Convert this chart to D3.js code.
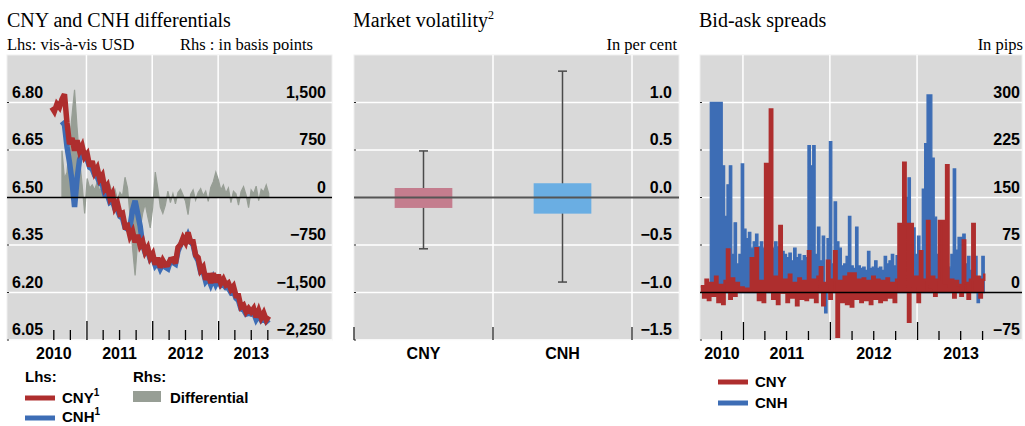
<!DOCTYPE html>
<html><head><meta charset="utf-8">
<script src="https://cdn.jsdelivr.net/npm/d3@7"></script>
<style>
body{margin:0;background:#fff;}
svg{display:block;}
</style></head><body>
<svg id="chart" width="1025" height="426"></svg>
<script>
// ---------------- DATA ----------------
// Left panel: fortnightly observations
const rateStart = "2010-06-23";
const rateStepDays = 14;
const cnyRate = [
 6.785, 6.772, 6.795, 6.785, 6.810, 6.826, 6.735, 6.668, 6.688, 6.648,
 6.680, 6.647, 6.663, 6.628, 6.638, 6.598, 6.615, 6.579, 6.593, 6.558,
 6.570, 6.527, 6.538, 6.499, 6.513, 6.468, 6.482, 6.448, 6.451, 6.409,
 6.412, 6.378, 6.393, 6.358, 6.382, 6.348, 6.361, 6.328, 6.342, 6.309,
 6.322, 6.288, 6.310, 6.279, 6.301, 6.287, 6.288, 6.304, 6.306, 6.292,
 6.342, 6.351, 6.372, 6.358, 6.390, 6.360, 6.360, 6.318, 6.310, 6.270,
 6.280, 6.240, 6.260, 6.230, 6.261, 6.232, 6.256, 6.229, 6.242, 6.224,
 6.230, 6.210, 6.220, 6.190, 6.190, 6.154, 6.160, 6.139, 6.150, 6.139,
 6.150, 6.122, 6.143, 6.120, 6.135, 6.113, 6.125
];
const cnhRate = [
 null, null, null, null, 6.74, 6.73, 6.66, 6.61, 6.55, 6.47,
 6.56, 6.62, 6.64, 6.625, 6.62, 6.595, 6.59, 6.57, 6.565, 6.545,
 6.54, 6.51, 6.51, 6.485, 6.49, 6.465, 6.46, 6.44, 6.435, 6.405,
 6.40, 6.41, 6.46, 6.49, 6.45, 6.41, 6.35, 6.325, 6.33, 6.305,
 6.31, 6.285, 6.295, 6.275, 6.29, 6.28, 6.275, 6.30, 6.295, 6.29,
 6.33, 6.35, 6.365, 6.36, 6.38, 6.36, 6.35, 6.315, 6.30, 6.265,
 6.265, 6.235, 6.245, 6.225, 6.245, 6.225, 6.24, 6.222, 6.226, 6.215,
 6.214, 6.20, 6.205, 6.182, 6.175, 6.148, 6.145, 6.132, 6.135, 6.132,
 6.136, 6.115, 6.128, 6.113, 6.12, 6.108, 6.115
];
const differentialBp = [
 null, null, null, null, 740, 300, 400, 900, 1300, 1700,
 1100, 600, 200, -250, 300, 150, 200, 120, 250, 100,
 180, 230, 90, 200, 60, 130, -30, 80, 20, 320,
 150, -300, -800, -1230, -700, -500, -250, -100, -300, -480,
 -150, 400, 150, -150, -250, -120, 100, -80, 60, -100,
 80, 130, 40, -60, -270, 50, 120, -40, 80, 140,
 30, 100, -60, 160, 250, 400, 280, 120, 200, 70,
 150, -80, 100, 60, -120, 90, 170, 40, -160, 120,
 60, 180, -50, 130, 90, 200, 60
];

// Middle panel: market volatility
const volCategories = ["CNY", "CNH"];
const volBoxLow = [-0.11, -0.17];
const volBoxHigh = [0.10, 0.15];
const volWhiskerLow = [-0.54, -0.89];
const volWhiskerHigh = [0.49, 1.33];

// Right panel: bid-ask spreads, 10-day observations
const spreadStart = "2010-07-08";
const spreadStepDays = 10;
const cnySpread = [
 10, -8, 20, -12, 15, -5, 25, -15, 12, -18,
 18, 68, -10, 22, -5, 15, 3, 8, 2, 6,
 3, 54, 5, 70, -12, 18, -15, 203, 5, 289,
 -10, 25, -18, 105, 0, 20, -15, 28, -8, 15,
 -20, 22, -10, 18, -12, 65, -8, 20, -15, 25,
 40, -20, 15, 50, -10, 20, 65, -70, 18, -15,
 25, -18, 30, -22, 30, -10, 20, -15, 22, -12,
 18, -18, 25, -10, 20, -15, 18, -12, 22, -8,
 15, -15, 20, 108, 108, 205, 108, -46, 108, 10,
 25, -15, 65, 5, 20, 113, 8, 25, -5, 20,
 113, 113, 15, 201, 10, 20, -8, 18, 12, -5,
 82, 15, -10, 20, 108, 5, 25, -8, 20, 30
];
const cnhSpread = [
 null, null, null, null, 300, 300, 300, 300, 300, 200,
 120, 170, 200, 60, 110, 45, 60, 203, 100, 85,
 95, 70, 80, 92, 72, 80, 70, 75, 68, 78,
 70, 80, 72, 80, 65, 60, 55, 62, 50, 70,
 55, 60, 50, 58, 55, 232, 200, 232, 60, 103,
 50, 89, -32, 85, 238, 45, 143, 80, 70, 42,
 45, 57, 120, 42, 38, 103, 42, 38, 40, 35,
 65, 38, 40, 50, 38, 40, 35, 57, 45, 50,
 60, 42, 58, 45, 50, 60, 150, 181, 90, 102,
 60, 89, 50, 163, 235, 312, 312, 212, 119, 60,
 52, 45, 40, 45, 40, 60, 195, 67, 87, 87,
 92, 45, 57, 35, 20, 57, -16, 25, 57, 25
];

// Tick labels
const lhsTicks = [6.05, 6.20, 6.35, 6.50, 6.65, 6.80];
const rhsTicks = [-2250, -1500, -750, 0, 750, 1500];
const volTicks = [-1.5, -1.0, -0.5, 0.0, 0.5, 1.0];
const pipTicks = [-75, 0, 75, 150, 225, 300];
const years = [2010, 2011, 2012, 2013];

// ---------------- DRAWING ----------------
const svg = d3.select("#chart");
const parse = d3.timeParse("%Y-%m-%d");
const SERIF = '"Liberation Serif","Times New Roman",serif';
const SANS = '"Liberation Sans",Arial,sans-serif';
const RED = "#AE2E2E", BLUE = "#3D6DB5", GREY = "#979E95";
const TOP = 55, BOT = 340;
const P1 = {x0: 7, x1: 332}, P2 = {x0: 354, x1: 679}, P3 = {x0: 700, x1: 1022};
const dash = s => s.replace("-", "\u2013");

function panelBg(p, id) {
  svg.append("rect").attr("x", p.x0).attr("y", TOP).attr("width", p.x1 - p.x0)
    .attr("height", BOT - TOP).attr("fill", "#d9d9d9").attr("stroke", "#efefef").attr("stroke-width", 1);
  svg.append("clipPath").attr("id", id).append("rect").attr("x", p.x0).attr("y", TOP)
    .attr("width", p.x1 - p.x0).attr("height", BOT - TOP);
}
function hGrid(p, scale, vals, zero) {
  vals.forEach(v => {
    if (v === zero) return;
    svg.append("line").attr("x1", p.x0).attr("x2", p.x1).attr("y1", scale(v)).attr("y2", scale(v))
      .attr("stroke", "#fff").attr("stroke-width", 1.5);
    svg.append("line").attr("x1", p.x0).attr("x2", p.x0 + 2).attr("y1", scale(v)).attr("y2", scale(v))
      .attr("stroke", "#222").attr("stroke-width", 1);
  });
}
function vGrid(xs) {
  xs.forEach(x => svg.append("line").attr("x1", x).attr("x2", x).attr("y1", TOP).attr("y2", BOT)
    .attr("stroke", "#fff").attr("stroke-width", 1.5));
}
function tickLabels(vals, scale, x, anchor, fmt) {
  vals.forEach(v => svg.append("text").attr("x", x).attr("y", scale(v) - 5)
    .attr("text-anchor", anchor).attr("font-family", SANS).attr("font-weight", "bold")
    .attr("font-size", 16).attr("fill", "#000").text(fmt(v)));
}
function timeTicks(scale, from, to, majorLen, minorLen) {
  const q = d3.timeMonth.every(3).range(from, to);
  const major = q.filter(d => d.getMonth() === 0), minor = q.filter(d => d.getMonth() !== 0);
  [[major, majorLen], [minor, minorLen]].forEach(([vals, len]) => {
    svg.append("g").attr("transform", `translate(0,${BOT})`)
      .call(d3.axisBottom(scale).tickValues(vals).tickSize(-len).tickFormat(""))
      .call(g => g.select(".domain").remove())
      .call(g => g.selectAll("line").attr("stroke", "#000").attr("stroke-width", 1.3));
  });
}
function yearLabels(scale, dates) {
  svg.append("g").attr("transform", `translate(0,${BOT})`)
    .call(d3.axisBottom(scale).tickValues(dates).tickSize(0).tickFormat(d3.timeFormat("%Y")))
    .call(g => g.select(".domain").remove())
    .call(g => g.selectAll("text").attr("y", 19).attr("dy", 0).attr("font-family", SANS)
      .attr("font-weight", "bold").attr("font-size", 16).attr("fill", "#000"));
}
function title(x, t, sup) {
  const tx = svg.append("text").attr("x", x).attr("y", 27).attr("font-family", SERIF)
    .attr("font-size", 20).attr("fill", "#000").text(t);
  if (sup) tx.append("tspan").attr("font-size", 12).attr("dy", -8).text(sup);
}
function sub(x, anchor, t) {
  svg.append("text").attr("x", x).attr("y", 50).attr("font-family", SERIF).attr("font-size", 16.5)
    .attr("text-anchor", anchor).attr("fill", "#000").text(t);
}
function legText(x, y, t, sup) {
  const tx = svg.append("text").attr("x", x).attr("y", y).attr("font-family", SANS)
    .attr("font-weight", "bold").attr("font-size", 15).attr("fill", "#000").text(t);
  if (sup) tx.append("tspan").attr("font-size", 10).attr("dy", -7).text(sup);
}

// ---- Panel 1 ----
const xL = d3.scaleTime().domain([new Date(2010, 0, 1), new Date(2014, 0, 1)]).range([20.7, 20.7 + 4 * 65.8]);
const yL = d3.scaleLinear().domain([6.05, 6.95]).range([BOT, TOP]);
const yR = d3.scaleLinear().domain([-2250, 2250]).range([BOT, TOP]);
const rateDates = cnyRate.map((_, i) => d3.timeDay.offset(parse(rateStart), i * rateStepDays));

title(7, "CNY and CNH differentials");
sub(7, "start", "Lhs: vis-\u00e0-vis USD");
sub(313, "end", "Rhs : in basis points");
panelBg(P1, "c1");
hGrid(P1, yL, lhsTicks, 6.50);
vGrid([2011, 2012, 2013].map(y => xL(new Date(y, 0, 1))));

const g1 = svg.append("g").attr("clip-path", "url(#c1)");
const diffData = differentialBp.map((v, i) => ({date: rateDates[i], v}));
g1.append("path").datum(diffData)
  .attr("d", d3.area().defined(d => d.v != null).x(d => xL(d.date)).y0(yR(0)).y1(d => yR(d.v)))
  .attr("fill", GREY).attr("stroke", GREY).attr("stroke-width", 1.2);
const line1 = d3.line().defined(d => d.v != null).x(d => xL(d.date)).y(d => yL(d.v));
g1.append("path").datum(cnhRate.map((v, i) => ({date: rateDates[i], v})))
  .attr("d", line1).attr("fill", "none").attr("stroke", BLUE).attr("stroke-width", 5.5).attr("stroke-linejoin", "miter").attr("stroke-miterlimit", 3);
g1.append("path").datum(cnyRate.map((v, i) => ({date: rateDates[i], v})))
  .attr("d", line1).attr("fill", "none").attr("stroke", RED).attr("stroke-width", 5.5).attr("stroke-linejoin", "miter").attr("stroke-miterlimit", 3);

svg.append("line").attr("x1", P1.x0).attr("x2", P1.x1).attr("y1", yR(0)).attr("y2", yR(0))
  .attr("stroke", "#000").attr("stroke-width", 1.5);
tickLabels(lhsTicks, yL, 12, "start", d3.format(".2f"));
tickLabels(rhsTicks, yR, 326, "end", v => dash(d3.format(",")(v)));
timeTicks(xL, new Date(2010, 6, 1), new Date(2013, 10, 1), 19, 10);
yearLabels(xL, years.map(y => new Date(y, 6, 1)));

legText(25, 382, "Lhs:");
legText(133, 382, "Rhs:");
svg.append("line").attr("x1", 25).attr("x2", 55).attr("y1", 398).attr("y2", 398).attr("stroke", RED).attr("stroke-width", 5);
legText(62, 403, "CNY", "1");
svg.append("line").attr("x1", 25).attr("x2", 55).attr("y1", 418).attr("y2", 418).attr("stroke", BLUE).attr("stroke-width", 5);
legText(62, 422, "CNH", "1");
svg.append("rect").attr("x", 133).attr("y", 391).attr("width", 28).attr("height", 11).attr("fill", GREY);
legText(170, 403, "Differential");

// ---- Panel 2 ----
const xM = d3.scaleBand().domain(volCategories).range([354, 632]);
const yM = d3.scaleLinear().domain([-1.5, 1.5]).range([BOT, TOP]);
title(353, "Market volatility", "2");
sub(677, "end", "In per cent");
panelBg(P2, "c2");
hGrid(P2, yM, volTicks, 0);
vGrid([xM("CNH"), xM("CNH") + xM.bandwidth()]);
const boxW = xM.bandwidth() * 0.415;
volCategories.forEach((c, i) => {
  const cx = xM(c) + xM.bandwidth() / 2;
  svg.append("line").attr("x1", cx).attr("x2", cx).attr("y1", yM(volWhiskerLow[i])).attr("y2", yM(volWhiskerHigh[i]))
    .attr("stroke", "#4a4a4a").attr("stroke-width", 1.5);
  [volWhiskerLow[i], volWhiskerHigh[i]].forEach(v => svg.append("line").attr("x1", cx - 4.5).attr("x2", cx + 4.5)
    .attr("y1", yM(v)).attr("y2", yM(v)).attr("stroke", "#4a4a4a").attr("stroke-width", 1.5));
  svg.append("rect").attr("x", cx - boxW / 2).attr("width", boxW)
    .attr("y", yM(volBoxHigh[i])).attr("height", yM(volBoxLow[i]) - yM(volBoxHigh[i]))
    .attr("fill", i === 0 ? "#C47D8E" : "#6AAEE3");
});
svg.append("line").attr("x1", P2.x0).attr("x2", P2.x1).attr("y1", yM(0)).attr("y2", yM(0))
  .attr("stroke", "#555").attr("stroke-width", 2);
tickLabels(volTicks, yM, 672, "end", v => dash(d3.format(".1f")(v)));
svg.append("g").attr("transform", `translate(0,${BOT})`)
  .call(d3.axisBottom(xM).tickSize(-13).tickFormat("").tickValues(volCategories))
  .call(g => g.select(".domain").remove())
  .call(g => g.selectAll(".tick").attr("transform", d => `translate(${xM(d) + xM.bandwidth()},0)`))
  .call(g => g.selectAll("line").attr("stroke", "#222").attr("stroke-width", 1.3));
svg.append("line").attr("x1", P2.x0).attr("x2", P2.x0).attr("y1", BOT - 13).attr("y2", BOT).attr("stroke", "#222").attr("stroke-width", 1.3);
svg.append("g").attr("transform", `translate(0,${BOT})`)
  .call(d3.axisBottom(xM).tickSize(0))
  .call(g => g.select(".domain").remove())
  .call(g => g.selectAll("text").attr("y", 19).attr("dy", 0).attr("font-family", SANS)
    .attr("font-weight", "bold").attr("font-size", 16).attr("fill", "#000"));

// ---- Panel 3 ----
const xS = d3.scaleTime().domain([new Date(2010, 0, 1), new Date(2014, 0, 1)]).range([656, 656 + 4 * 87]);
const yS = d3.scaleLinear().domain([-75, 375]).range([BOT, TOP]);
const spreadDates = cnySpread.map((_, i) => d3.timeDay.offset(parse(spreadStart), i * spreadStepDays));
title(699, "Bid-ask spreads");
sub(1023, "end", "In pips");
panelBg(P3, "c3");
hGrid(P3, yS, pipTicks, 0);
vGrid([2011, 2012, 2013].map(y => xS(new Date(y, 0, 1))));
const g3 = svg.append("g").attr("clip-path", "url(#c3)");
const area3 = d3.area().defined(d => d.v != null).x(d => xS(d.date)).y0(yS(0)).y1(d => yS(d.v)).curve(d3.curveStepAfter);
const line3 = d3.line().defined(d => d.v != null).x(d => xS(d.date)).y(d => yS(d.v)).curve(d3.curveStepAfter);
const cnhS = cnhSpread.map((v, i) => ({date: spreadDates[i], v}));
const cnyS = cnySpread.map((v, i) => ({date: spreadDates[i], v}));
g3.append("path").datum(cnhS).attr("d", area3).attr("fill", BLUE).attr("stroke", BLUE).attr("stroke-width", 1.3);
g3.append("path").datum(cnyS).attr("d", area3).attr("fill", RED);
g3.append("path").datum(cnyS).attr("d", line3).attr("fill", "none").attr("stroke", RED).attr("stroke-width", 2.5);
svg.append("line").attr("x1", P3.x0).attr("x2", P3.x1).attr("y1", yS(0)).attr("y2", yS(0))
  .attr("stroke", "#000").attr("stroke-width", 1.5);
tickLabels(pipTicks, yS, 1020, "end", v => dash(String(v)));
timeTicks(xS, new Date(2010, 9, 1), new Date(2013, 10, 1), 18, 9);
const visStart = xS.invert(P3.x0);
yearLabels(xS, years.map(y => {
  const a = Math.max(+new Date(y, 0, 1), +visStart), b = +new Date(y + 1, 0, 1);
  return new Date((a + b) / 2);
}));
svg.append("line").attr("x1", 718).attr("x2", 748).attr("y1", 382).attr("y2", 382).attr("stroke", RED).attr("stroke-width", 5);
legText(755, 387, "CNY");
svg.append("line").attr("x1", 718).attr("x2", 748).attr("y1", 403).attr("y2", 403).attr("stroke", BLUE).attr("stroke-width", 5);
legText(755, 408, "CNH");
</script>
</body></html>
